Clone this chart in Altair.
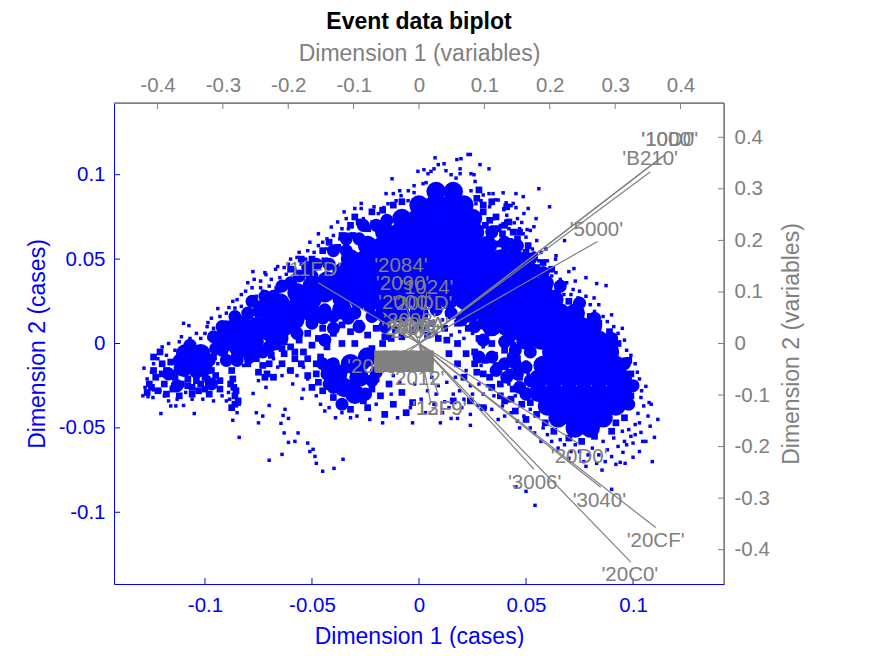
import altair as alt
import pandas as pd

# dense parts of the case cloud
hump_core = [
    (0.008, 0.090), (0.016, 0.090),
    (0.0, 0.082), (0.007, 0.082), (0.014, 0.082), (0.021, 0.082),
    (-0.008, 0.074), (-0.001, 0.074), (0.006, 0.074), (0.013, 0.074), (0.02, 0.074), (0.025, 0.074),
    (-0.016, 0.066), (-0.009, 0.066), (-0.002, 0.066), (0.005, 0.066), (0.012, 0.066), (0.019, 0.066), (0.026, 0.066),
    (-0.024, 0.058), (-0.017, 0.058), (-0.01, 0.058), (-0.003, 0.058), (0.004, 0.058), (0.011, 0.058), (0.018, 0.058), (0.025, 0.058), (0.032, 0.058),
    (-0.032, 0.05), (-0.025, 0.05), (-0.018, 0.05), (-0.011, 0.05), (-0.004, 0.05), (0.003, 0.05), (0.01, 0.05), (0.017, 0.05), (0.024, 0.05), (0.031, 0.05), (0.038, 0.05), (0.045, 0.05),
    (-0.036, 0.042), (-0.029, 0.042), (-0.022, 0.042), (-0.015, 0.042), (-0.008, 0.042), (-0.001, 0.042), (0.006, 0.042), (0.013, 0.042), (0.02, 0.042), (0.027, 0.042), (0.034, 0.042), (0.041, 0.042), (0.048, 0.042), (0.052, 0.042),
    (-0.04, 0.034), (-0.033, 0.034), (-0.026, 0.034), (-0.019, 0.034), (-0.012, 0.034), (-0.005, 0.034), (0.002, 0.034), (0.009, 0.034), (0.016, 0.034), (0.023, 0.034), (0.03, 0.034), (0.037, 0.034), (0.044, 0.034), (0.051, 0.034), (0.058, 0.034),
    (-0.028, 0.026), (-0.021, 0.026), (-0.014, 0.026), (-0.007, 0.026), (0.0, 0.026), (0.007, 0.026), (0.014, 0.026), (0.021, 0.026), (0.028, 0.026), (0.035, 0.026), (0.042, 0.026), (0.049, 0.026), (0.056, 0.026), (0.063, 0.026),
    (-0.016, 0.018), (-0.009, 0.018), (0.0, 0.018), (0.024, 0.018), (0.031, 0.018), (0.038, 0.018), (0.045, 0.018), (0.052, 0.018), (0.059, 0.018), (0.066, 0.018), (0.073, 0.018),
    (0.034, 0.01), (0.041, 0.01), (0.048, 0.01), (0.055, 0.01), (0.062, 0.01), (0.069, 0.01), (0.076, 0.01), (0.081, 0.01),
    (0.05, 0.002), (0.057, 0.002), (0.064, 0.002), (0.071, 0.002), (0.078, 0.002), (0.084, 0.002),
]

right_core = [
    (0.062, -0.005), (0.069, -0.005), (0.076, -0.005), (0.083, -0.005), (0.089, -0.005),
    (0.058, -0.013), (0.065, -0.013), (0.072, -0.013), (0.079, -0.013), (0.086, -0.013), (0.092, -0.013),
    (0.056, -0.021), (0.063, -0.021), (0.07, -0.021), (0.077, -0.021), (0.084, -0.021), (0.091, -0.021), (0.095, -0.021),
    (0.056, -0.029), (0.063, -0.029), (0.07, -0.029), (0.077, -0.029), (0.084, -0.029), (0.091, -0.029), (0.095, -0.029),
    (0.06, -0.037), (0.067, -0.037), (0.074, -0.037), (0.081, -0.037), (0.088, -0.037), (0.092, -0.037),
    (0.065, -0.044), (0.072, -0.044), (0.079, -0.044), (0.086, -0.044),
    (0.073, -0.05), (0.08, -0.05),
]

left_core = [
    (-0.1056, -0.010), (-0.102, -0.006), (-0.109, -0.006), (-0.101, -0.014), (-0.110, -0.014),
    (-0.0846, 0.0035), (-0.08, 0.006), (-0.09, 0.001), (-0.084, -0.003), (-0.077, 0.001), (-0.09, 0.008),
    (-0.07, 0.014), (-0.064, 0.017), (-0.076, 0.01), (-0.07, 0.007), (-0.063, 0.01), (-0.072, 0.021), (-0.065, 0.024),
    (-0.057, 0.022), (-0.05, 0.026), (-0.044, 0.03), (-0.05, 0.034), (-0.043, 0.037), (-0.057, 0.03), (-0.058, 0.014),
    (-0.036, 0.027), (-0.036, 0.02), (-0.05, 0.018),
    (-0.038, -0.018), (-0.032, -0.012), (-0.028, -0.02), (-0.035, -0.026), (-0.03, -0.03), (-0.024, -0.008),
]

# thinner solid stretches along the flanks
band_core = [
    (-0.026, 0.07), (-0.02, 0.07), (-0.015, 0.073), (-0.034, 0.062), (-0.028, 0.062), (-0.04, 0.055), (-0.034, 0.055),
    (-0.048, 0.047), (-0.042, 0.047), (-0.056, 0.04), (-0.05, 0.04), (-0.064, 0.034), (-0.072, 0.028), (-0.078, 0.025),
    (-0.08, 0.018), (-0.086, 0.016), (-0.086, 0.012), (-0.092, 0.01), (-0.096, 0.004), (-0.095, -0.003), (-0.09, -0.01),
    (-0.085, -0.01), (-0.079, -0.008), (-0.073, -0.005), (-0.066, 0.002), (-0.057, 0.006),
    (-0.045, 0.015), (-0.04, 0.009), (-0.033, 0.015), (-0.028, 0.01), (-0.022, 0.016), (-0.016, 0.01), (-0.044, 0.002),
    (-0.045, -0.012), (-0.042, -0.024), (-0.025, -0.03), (-0.036, -0.036), (-0.02, -0.017),
    (0.04, 0.06), (0.046, 0.058), (0.052, 0.05), (0.058, 0.042), (0.066, 0.034), (0.075, 0.024), (0.082, 0.015), (0.09, 0.003),
    (0.096, -0.012), (0.1, -0.025), (0.098, -0.036), (0.034, 0.066),
    (0.044, -0.008), (0.04, 0.001), (0.046, -0.018), (0.05, -0.03), (0.03, 0.002), (0.036, -0.016),
    (-0.117, -0.018), (-0.113, -0.025), (-0.097, -0.024),
    (-0.05, 0.012), (-0.044, 0.02), (-0.04, 0.016), (-0.03, 0.018), (-0.023, 0.022), (-0.015, 0.024), (-0.008, 0.024),
    (0.008, 0.02), (0.015, 0.018), (0.02, 0.014), (0.026, 0.01), (0.03, 0.012), (0.042, 0.003), (0.046, 0.006), (0.06, 0.036),
    (-0.086, 0.008), (-0.082, 0.013), (-0.075, 0.019), (-0.068, 0.028), (-0.06, 0.036), (-0.052, 0.045),
    (-0.092, -0.004), (-0.085, -0.008), (-0.078, -0.006), (-0.07, -0.002), (-0.064, 0.003),
    (-0.098, -0.01), (-0.104, -0.017), (-0.112, -0.01), (-0.107, -0.001),
    (-0.04, -0.012), (-0.043, -0.018), (-0.04, -0.026), (-0.026, -0.012), (-0.022, -0.022),
    (0.04, -0.012), (0.045, -0.012), (0.05, -0.014), (0.052, -0.022), (0.047, -0.026), (0.041, -0.02), (0.034, -0.008), (0.028, -0.008), (0.052, -0.005), (0.045, -0.004),
]

# medium squares where the cloud is thick but broken up
patch_points = [
    (-0.118, -0.016), (-0.114, -0.02), (-0.119, -0.024), (-0.115, -0.027), (-0.111, -0.024), (-0.12, -0.012), (-0.123, -0.02), (-0.116, -0.011),
    (-0.104, -0.022), (-0.1, -0.027), (-0.096, -0.024), (-0.093, -0.022), (-0.098, -0.03), (-0.103, -0.028), (-0.093, -0.027), (-0.095, -0.019), (-0.108, -0.025), (-0.112, -0.031),
    (-0.08, -0.005), (-0.076, -0.009), (-0.073, -0.013), (-0.071, -0.018), (-0.072, -0.02), (-0.075, -0.017), (-0.07, -0.012),
    (-0.0875, -0.016), (-0.087, -0.021), (-0.0865, -0.026), (-0.086, -0.031), (-0.0855, -0.028), (-0.088, -0.024), (-0.0845, -0.034), (-0.086, -0.036), (-0.0875, -0.038),
    (-0.067, -0.002), (-0.063, -0.006), (-0.06, -0.002), (-0.056, 0.002), (-0.052, 0.006), (-0.063, 0.001), (-0.058, -0.009), (-0.054, -0.005), (-0.05, -0.001), (-0.047, 0.003),
    (-0.045, 0.009), (-0.04, 0.006), (-0.036, 0.011), (-0.032, 0.007), (-0.028, 0.012), (-0.024, 0.005), (-0.02, 0.009), (-0.016, 0.004), (-0.011, 0.008), (-0.043, -0.002),
    (-0.048, -0.012), (-0.044, -0.016), (-0.046, -0.008), (-0.041, -0.011), (-0.042, -0.023), (-0.045, -0.028), (-0.04, -0.032), (-0.036, -0.036), (-0.032, -0.039), (-0.026, -0.034),
    (-0.022, -0.027), (-0.024, -0.038), (-0.018, -0.031), (-0.02, -0.021), (-0.014, -0.024), (-0.012, -0.036), (-0.008, -0.029), (-0.006, -0.041), (-0.016, -0.042), (-0.003, -0.035),
    (0.006, 0.012), (0.012, 0.009), (0.018, 0.012), (0.023, 0.009), (0.028, 0.003), (0.034, 0.0), (0.04, -0.004), (0.044, -0.001), (0.046, -0.009),
    (0.033, 0.063), (0.037, 0.059), (0.04, 0.055), (0.044, 0.06), (0.048, 0.052), (0.031, 0.07), (0.035, 0.068), (0.039, 0.065), (0.043, 0.056), (0.05, 0.047),
    (0.055, 0.045), (0.06, 0.038), (0.065, 0.032), (0.07, 0.025), (0.074, 0.02), (0.08, 0.016), (0.084, 0.012), (0.089, 0.007), (0.093, 0.0),
    (0.026, -0.005), (0.031, -0.01), (0.036, -0.013), (0.042, -0.017), (0.047, -0.02), (0.05, -0.028), (0.044, -0.027), (0.038, -0.024), (0.033, -0.02), (0.027, -0.017),
    (0.052, -0.035), (0.048, -0.036), (0.043, -0.033), (0.038, -0.031), (0.055, -0.042), (0.059, -0.047), (0.063, -0.052), (0.07, -0.056), (0.076, -0.058), (0.082, -0.055),
    (0.098, -0.01), (0.099, -0.018), (0.1, -0.024), (0.099, -0.031), (0.097, -0.037), (0.096, -0.044), (0.092, -0.047), (0.09, -0.052),
    (-0.03, 0.075), (-0.024, 0.068), (-0.031, 0.064), (-0.038, 0.057), (-0.044, 0.049), (-0.051, 0.044), (-0.056, 0.04), (-0.061, 0.035), (-0.066, 0.032), (-0.072, 0.028), (-0.079, 0.017), (-0.085, 0.014),
    (0.036, 0.075), (0.042, 0.072), (0.03, 0.078), (0.047, 0.066), (0.034, 0.084), (0.041, 0.081), (0.027, 0.086), (0.051, 0.058),
    (-0.126, -0.024), (-0.122, -0.028), (-0.124, -0.016), (-0.118, -0.03), (-0.106, -0.03), (-0.099, -0.021), (-0.097, -0.016), (-0.096, -0.008),
    (-0.068, -0.02), (-0.064, -0.012), (-0.06, -0.016), (-0.055, -0.012), (-0.052, -0.019), (-0.05, -0.026),
    (0.018, -0.012), (0.014, -0.006), (0.021, -0.02), (0.024, -0.034), (0.03, -0.038), (0.016, -0.034),
    (-0.06, 0.044), (-0.055, 0.05), (-0.05, 0.05), (-0.045, 0.055), (-0.042, 0.06), (-0.036, 0.064), (-0.032, 0.07), (-0.028, 0.072), (-0.022, 0.078), (-0.017, 0.079), (-0.012, 0.082), (-0.008, 0.084),
    (0.03, 0.082), (0.033, 0.073), (0.037, 0.068), (0.04, 0.07), (0.044, 0.066), (0.046, 0.062), (0.05, 0.054), (0.054, 0.052), (0.058, 0.048), (0.062, 0.044), (0.028, 0.091),
    (-0.036, 0.0), (-0.03, 0.0), (-0.022, -0.003), (-0.017, 0.0), (-0.013, 0.003), (-0.008, 0.004), (-0.003, 0.008), (0.0, 0.01), (0.004, 0.005), (0.009, 0.003), (0.013, 0.002), (0.018, 0.0),
    (0.022, -0.006), (0.026, -0.012), (0.03, -0.018), (0.034, -0.026), (0.04, -0.034), (0.045, -0.04), (0.05, -0.045),
    (-0.08, -0.012), (-0.069, -0.007), (-0.064, -0.003), (-0.058, -0.005), (-0.052, -0.009), (-0.048, -0.018), (-0.047, -0.023),
    (-0.125, -0.026), (-0.12, -0.018), (-0.127, -0.029), (-0.121, -0.005), (-0.124, -0.008), (-0.113, -0.016), (-0.108, -0.021), (-0.102, -0.024), (-0.106, -0.026), (-0.1, -0.02),
]

# scattered single points round the edges
edge_points = [
    (-0.1285, -0.0146), (-0.128, -0.026), (-0.129, -0.031), (-0.1266, -0.0315), (-0.1243, -0.032), (-0.1206, -0.0415), (-0.116, -0.037), (-0.1136, -0.037), (-0.11, -0.0367), (-0.105, -0.0415),
    (-0.11, 0.012), (-0.1075, 0.0106), (-0.12, -0.002), (-0.117, 0.0), (-0.124, -0.012), (-0.124, -0.0275), (-0.087, -0.0455), (-0.084, -0.0556), (-0.075, -0.047), (-0.073, -0.043),
    (-0.076, -0.041), (-0.07, -0.0367), (-0.0775, -0.0296), (-0.0715, -0.026), (-0.0645, -0.0473), (-0.0635, -0.0426), (-0.061, -0.0444), (-0.0626, -0.039), (-0.063, -0.053), (-0.061, -0.0586),
    (-0.058, -0.058), (-0.0565, -0.053), (-0.052, -0.059), (-0.051, -0.064), (-0.0495, -0.0627), (-0.0486, -0.0669), (-0.048, -0.071), (-0.045, -0.0757), (-0.0397, -0.074), (-0.0355, -0.0686),
    (-0.064, -0.0657), (-0.07, -0.0692), (-0.0547, -0.0325), (-0.054, -0.0272), (-0.085, -0.041), (-0.0885, -0.033), (-0.09, -0.034), (-0.084, -0.036),
    (-0.0776, 0.0426), (-0.0715, 0.0408), (-0.08, 0.036), (-0.066, 0.0456), (-0.094, 0.0207), (-0.0986, 0.0124), (-0.0888, 0.0213), (-0.092, 0.012), (-0.096, 0.009), (-0.1, 0.006),
    (-0.074, 0.033), (-0.083, 0.029), (-0.087, 0.025), (-0.061, 0.047), (-0.057, 0.051), (-0.052, 0.055), (-0.047, 0.058), (-0.043, 0.062), (-0.04, 0.064), (-0.036, 0.068),
    (-0.035, 0.078), (-0.03, 0.08), (-0.027, 0.08), (-0.022, 0.072), (-0.019, 0.077), (-0.0164, 0.0805), (-0.0145, 0.0828), (-0.0107, 0.0846), (-0.0084, 0.0876), (-0.0051, 0.0846),
    (-0.0023, 0.0894), (-0.0154, 0.0888), (-0.012, 0.0888), (-0.009, 0.0905), (-0.005, 0.0905), (-0.0023, 0.0935), (0.0019, 0.0947), (0.0033, 0.0953), (-0.0126, 0.0976),
    (0.0075, 0.11), (0.0177, 0.109), (0.0196, 0.1095), (0.0229, 0.112), (0.024, 0.112), (0.0117, 0.1065), (0.009, 0.106), (0.0192, 0.1035), (0.0285, 0.106), (0.0327, 0.1035),
    (0.0023, 0.103), (-0.0005, 0.102), (0.007, 0.1035), (0.0056, 0.102), (0.0042, 0.1006), (0.0126, 0.1024), (0.015, 0.1), (0.0173, 0.098), (0.0192, 0.1006), (0.0243, 0.1006),
    (0.0257, 0.1), (0.0262, 0.096), (0.0327, 0.0888), (0.0346, 0.0888), (0.0393, 0.0893), (0.0453, 0.0888), (0.036, 0.0852), (0.0407, 0.0834), (0.0453, 0.0805), (0.0397, 0.08),
    (0.0336, 0.0828), (0.029, 0.0846), (0.0266, 0.0828), (0.0243, 0.0905), (0.022, 0.0828),
    (0.056, 0.0917), (0.061, 0.081), (0.0487, 0.087), (0.0547, 0.074), (0.051, 0.08), (0.0537, 0.0692), (0.068, 0.061), (0.064, 0.052), (0.0593, 0.056), (0.0724, 0.0444),
    (0.07, 0.0426), (0.078, 0.039), (0.083, 0.0355), (0.0874, 0.0343), (0.0818, 0.027), (0.0743, 0.027), (0.0654, 0.0355), (0.071, 0.029), (0.0677, 0.029), (0.043, 0.0817),
    (0.0397, 0.0793), (0.0405, 0.0725), (0.0445, 0.0715), (0.048, 0.0717), (0.0505, 0.0675), (0.0487, 0.065), (0.0445, 0.066), (0.043, 0.0615), (0.0467, 0.059), (0.0505, 0.058),
    (0.0537, 0.0536), (0.0545, 0.05), (0.0583, 0.0443), (0.0598, 0.04), (0.0638, 0.05),
    (0.1116, -0.045), (0.109, -0.07), (0.103, -0.064), (0.1, -0.0674), (0.0963, -0.071), (0.094, -0.0704), (0.092, -0.0716), (0.0953, -0.0645), (0.0855, -0.075), (0.09, -0.0864),
    (0.078, -0.0728), (0.0542, -0.0959), (0.05, -0.0876), (0.0453, -0.085), (0.11, -0.0556), (0.106, -0.058), (0.1045, -0.058), (0.1037, -0.0527), (0.1085, -0.036), (0.1075, -0.035),
    (0.106, -0.0254), (0.1037, -0.032), (0.1005, -0.0265), (0.1023, -0.0414), (0.101, -0.048), (0.099, -0.055), (0.097, -0.06), (0.088, -0.063), (0.084, -0.066), (0.075, -0.064),
    (0.024, -0.0485), (0.0276, -0.0367), (0.015, -0.0444), (0.018, -0.0444), (0.012, -0.0345), (0.02, -0.038), (0.008, -0.03), (0.011, -0.041), (0.006, -0.02), (0.013, -0.023),
    (0.019, -0.028), (0.024, -0.025), (0.03, -0.03), (0.034, -0.039), (0.04, -0.043), (0.046, -0.046), (0.052, -0.05), (0.057, -0.058), (0.065, -0.062), (0.07, -0.068),
]

# more of the speckle, by part of the cloud
rim_left = [
    (-0.127, -0.021), (-0.125, -0.017), (-0.122, -0.009), (-0.121, -0.028), (-0.119, -0.031), (-0.118, -0.007), (-0.117, -0.034), (-0.114, -0.004), (-0.113, -0.033), (-0.112, 0.001),
    (-0.111, 0.004), (-0.109, -0.029), (-0.107, 0.003), (-0.106, -0.033), (-0.104, 0.006), (-0.102, 0.003), (-0.101, -0.033), (-0.099, 0.01), (-0.098, 0.003), (-0.097, 0.015),
    (-0.096, -0.034), (-0.094, -0.012), (-0.093, 0.016), (-0.092, -0.031), (-0.091, -0.009), (-0.09, 0.018), (-0.089, -0.029), (-0.087, 0.016), (-0.086, 0.021), (-0.085, 0.026),
    (-0.083, 0.022), (-0.082, -0.013), (-0.081, 0.031), (-0.079, -0.011), (-0.079, 0.026), (-0.078, 0.033), (-0.077, 0.038), (-0.076, 0.028), (-0.075, -0.022), (-0.074, 0.037),
    (-0.073, 0.031), (-0.072, 0.042), (-0.07, 0.034), (-0.069, 0.038), (-0.068, -0.009), (-0.067, 0.044), (-0.066, -0.014), (-0.065, 0.039), (-0.064, -0.019), (-0.063, 0.045),
    (-0.062, 0.041), (-0.061, -0.016), (-0.06, 0.05), (-0.059, -0.024), (-0.058, 0.044), (-0.057, -0.019), (-0.056, 0.054), (-0.055, 0.047), (-0.054, -0.014), (-0.053, 0.05),
    (-0.052, -0.021), (-0.051, 0.06), (-0.05, -0.026), (-0.049, 0.054), (-0.048, -0.031), (-0.047, 0.065), (-0.046, -0.036), (-0.045, 0.06), (-0.044, -0.04), (-0.043, 0.056),
    (-0.042, -0.038), (-0.041, 0.069), (-0.04, 0.055), (-0.039, -0.044), (-0.038, 0.072), (-0.037, 0.062), (-0.036, -0.041), (-0.034, 0.074), (-0.033, 0.068), (-0.032, -0.044),
]

rim_middle = [
    (-0.029, -0.043), (-0.027, 0.083), (-0.026, 0.074), (-0.023, -0.045), (-0.021, 0.081), (-0.02, -0.036), (-0.018, 0.072), (-0.017, -0.047), (-0.015, -0.012), (-0.013, -0.03),
    (-0.012, -0.019), (-0.01, -0.044), (-0.009, -0.023), (-0.008, -0.014), (-0.004, -0.038), (-0.003, -0.047), (-0.002, -0.024), (0.001, -0.033), (0.003, -0.041), (0.004, -0.028),
    (0.007, -0.036), (0.009, -0.025), (0.01, -0.047), (0.014, -0.038), (0.016, -0.03), (0.017, -0.02), (0.021, -0.033), (0.022, -0.016), (0.024, -0.042), (0.025, -0.03),
    (0.028, -0.024), (0.029, -0.013), (0.031, -0.038), (0.032, -0.025), (0.035, -0.031), (0.036, -0.006), (0.037, -0.045), (0.039, -0.037), (0.041, -0.012), (0.042, -0.024),
    (0.043, -0.041), (0.045, -0.031), (0.046, -0.015), (0.047, -0.05), (0.049, -0.043), (0.05, -0.011), (0.051, -0.018), (0.052, -0.039), (0.053, -0.029), (0.054, -0.053),
    (0.003, 0.009), (0.008, 0.006), (0.011, 0.014), (0.015, 0.005), (0.019, 0.007), (0.021, 0.003), (0.025, 0.006), (0.027, 0.011), (0.03, -0.002), (0.032, 0.005),
]

rim_right = [
    (0.03, 0.088), (0.033, 0.081), (0.035, 0.074), (0.037, 0.085), (0.038, 0.07), (0.041, 0.076), (0.042, 0.068), (0.044, 0.083), (0.046, 0.074), (0.047, 0.068),
    (0.049, 0.077), (0.05, 0.063), (0.052, 0.067), (0.053, 0.056), (0.055, 0.061), (0.056, 0.049), (0.057, 0.054), (0.06, 0.049), (0.061, 0.044), (0.062, 0.04),
    (0.064, 0.042), (0.066, 0.038), (0.067, 0.034), (0.069, 0.036), (0.072, 0.032), (0.073, 0.037), (0.075, 0.031), (0.076, 0.024), (0.078, 0.028), (0.08, 0.023),
    (0.082, 0.019), (0.084, 0.023), (0.086, 0.016), (0.088, 0.013), (0.09, 0.017), (0.091, 0.01), (0.093, 0.006), (0.095, 0.009), (0.096, 0.002), (0.097, -0.004),
    (0.099, -0.007), (0.101, -0.012), (0.102, -0.017), (0.103, -0.021), (0.104, -0.028), (0.105, -0.037), (0.107, -0.043), (0.108, -0.049), (0.103, -0.047), (0.101, -0.054),
    (0.1, -0.059), (0.098, -0.051), (0.096, -0.058), (0.095, -0.052), (0.093, -0.061), (0.091, -0.056), (0.09, -0.067), (0.087, -0.07), (0.086, -0.058), (0.083, -0.071),
    (0.081, -0.062), (0.079, -0.066), (0.077, -0.07), (0.073, -0.06), (0.071, -0.064), (0.068, -0.06), (0.066, -0.057), (0.062, -0.058), (0.06, -0.054), (0.058, -0.05),
]

# variable loadings, ends of the grey lines
line_x = [0.374, 0.376, 0.354, 0.273, -0.154, 0.244, 0.278, 0.362, 0.324, 0.176, 0.03, 0.018, -0.042, -0.06, 0.01, -0.025, 0.012, -0.055, -0.03, 0.02]
line_y = [0.364, 0.366, 0.333, 0.198, 0.118, -0.194, -0.279, -0.357, -0.424, -0.244, -0.1, -0.115, -0.042, -0.04, -0.03, 0.09, 0.1, 0.06, 0.04, -0.05]

label_text = ["'1000'", "'10D0'", "'B210'", "'5000'", "'11FD'", "'20D0'", "'3040'", "'20CF'", "'20C0'", "'3006'", "'12F9'", "'13F9'", "'2012'", "'2010'", "'2084'", "'2090'", "'1024'", "'20DD'", "'2000'", "'2008'", "'200A'", "'2006'", "'2005'", "'2001'"]
label_x = [0.34, 0.34, 0.311, 0.2305, -0.205, 0.2015, 0.235, 0.3176, 0.279, 0.136, -0.0107, -0.0107, -0.0427, -0.11, -0.0686, -0.066, -0.029, -0.041, -0.0626, -0.055, -0.04, -0.058, -0.05, -0.045]
label_y = [0.395, 0.395, 0.3585, 0.221, 0.1434, -0.221, -0.306, -0.384, -0.45, -0.271, -0.128, -0.128, -0.068, -0.0465, 0.151, 0.116, 0.1085, 0.0775, 0.0795, 0.0446, 0.035, 0.029, 0.022, 0.032]

# the knot of small loadings just under the origin
knot_x = [-0.058, -0.044, -0.03, -0.016, -0.002, 0.012, -0.058, -0.044, -0.03, -0.016, -0.002, 0.012]
knot_y = [-0.027, -0.027, -0.027, -0.027, -0.027, -0.027, -0.042, -0.042, -0.042, -0.042, -0.042, -0.042]

case_x_ticks = [-0.1, -0.05, 0, 0.05, 0.1]
case_y_ticks = [-0.1, -0.05, 0, 0.05, 0.1]
var_ticks = [-0.4, -0.3, -0.2, -0.1, 0, 0.1, 0.2, 0.3, 0.4]

BLUE = "#0000ff"
GREY = "#808080"
FONT = "Liberation Sans"
case_dom = [-0.1425, 0.1425]
var_dom = [-0.4665, 0.4665]
W, H = 610, 481
HYPHEN = "replace(datum.label, '\u2212', '-')"


def points_df(pts):
    return pd.DataFrame(pts, columns=["x", "y"])


def make_axis(orient, title, values, color, label_pad, title_pad, **kw):
    return alt.Axis(orient=orient, title=title, values=values, format="~g", labelExpr=HYPHEN,
                    grid=False, ticks=False, domainColor=color, labelColor=color, titleColor=color,
                    labelFontSize=20.5, titleFontSize=23, labelFont=FONT, titleFont=FONT,
                    titleFontWeight="normal", labelPadding=label_pad, titlePadding=title_pad, labelFlush=False, **kw)


case_x = alt.X("x:Q", scale=alt.Scale(domain=case_dom, nice=False, zero=False),
               axis=make_axis("bottom", "Dimension 1 (cases)", case_x_ticks, BLUE, 11, 10))
case_y = alt.Y("y:Q", scale=alt.Scale(domain=case_dom, nice=False, zero=False),
               axis=make_axis("left", "Dimension 2 (cases)", case_y_ticks, BLUE, 9, 9))
var_x = alt.X("x:Q", scale=alt.Scale(domain=var_dom, nice=False, zero=False),
              axis=make_axis("top", "Dimension 1 (variables)", var_ticks, GREY, 8, 10))
var_y = alt.Y("y:Q", scale=alt.Scale(domain=var_dom, nice=False, zero=False),
              axis=make_axis("right", "Dimension 2 (variables)", var_ticks, GREY, 10, 34, titleAngle=270))

# cases, drawn with the bottom and left axes
core = alt.Chart(points_df(hump_core + right_core + left_core)).mark_circle(color=BLUE, opacity=1, size=380).encode(x=case_x, y=case_y)
band = alt.Chart(points_df(band_core)).mark_circle(color=BLUE, opacity=1, size=170).encode(x="x:Q", y="y:Q")
patch = alt.Chart(points_df(patch_points)).mark_square(color=BLUE, opacity=1, size=45).encode(x="x:Q", y="y:Q")
edge = alt.Chart(points_df(edge_points + rim_left + rim_middle + rim_right)).mark_square(color=BLUE, opacity=1, size=12).encode(x="x:Q", y="y:Q")

tick_x = alt.Chart(pd.DataFrame({"x": case_x_ticks})).mark_rule(color=BLUE).encode(
    x="x:Q", y=alt.value(H), y2=alt.value(H - 6))
tick_y = alt.Chart(pd.DataFrame({"y": case_y_ticks})).mark_rule(color=BLUE).encode(
    y="y:Q", x=alt.value(0), x2=alt.value(6))
case_layer = alt.layer(core, band, patch, edge, tick_x, tick_y)

# variables, drawn with the top and right axes
lines_df = pd.DataFrame({"x": [0] * len(line_x), "y": [0] * len(line_y), "x2": line_x, "y2": line_y})
lines = alt.Chart(lines_df).mark_rule(color=GREY, strokeWidth=1.2).encode(x=var_x, y=var_y, x2="x2:Q", y2="y2:Q")
knot = alt.Chart(pd.DataFrame({"x": knot_x, "y": knot_y})).mark_square(color=GREY, opacity=1, size=190).encode(x="x:Q", y="y:Q")
labels = alt.Chart(pd.DataFrame({"x": label_x, "y": label_y, "t": label_text})).mark_text(
    color=GREY, align="left", baseline="middle", font=FONT, fontSize=20.5).encode(x="x:Q", y="y:Q", text="t:N")

tick_top = alt.Chart(pd.DataFrame({"x": var_ticks})).mark_rule(color=GREY).encode(
    x="x:Q", y=alt.value(0), y2=alt.value(6))
tick_right = alt.Chart(pd.DataFrame({"y": var_ticks})).mark_rule(color=GREY).encode(
    y="y:Q", x=alt.value(W), x2=alt.value(W - 6))
# grey top and right edges of the box
edge_top = alt.Chart(pd.DataFrame({"x": var_dom})).mark_rule(color=GREY).encode(
    x=alt.value(0), x2=alt.value(W), y=alt.value(0))
edge_right = alt.Chart(pd.DataFrame({"y": var_dom})).mark_rule(color=GREY).encode(
    y=alt.value(0), y2=alt.value(H), x=alt.value(W))
var_layer = alt.layer(lines, knot, labels, tick_top, tick_right, edge_top, edge_right)

chart = alt.layer(case_layer, var_layer).resolve_scale(x="independent", y="independent").properties(
    width=W, height=H,
    padding={"left": 106, "top": 95, "right": 135, "bottom": 64},
    autosize=alt.AutoSizeParams(type="none"),
    title=alt.TitleParams("Event data biplot", fontSize=23, font=FONT, fontWeight="bold", color="black",
                          anchor="middle", offset=8),
).configure_view(stroke=None)

chart.save("out.html", embed_options={"renderer": "svg", "actions": False})
